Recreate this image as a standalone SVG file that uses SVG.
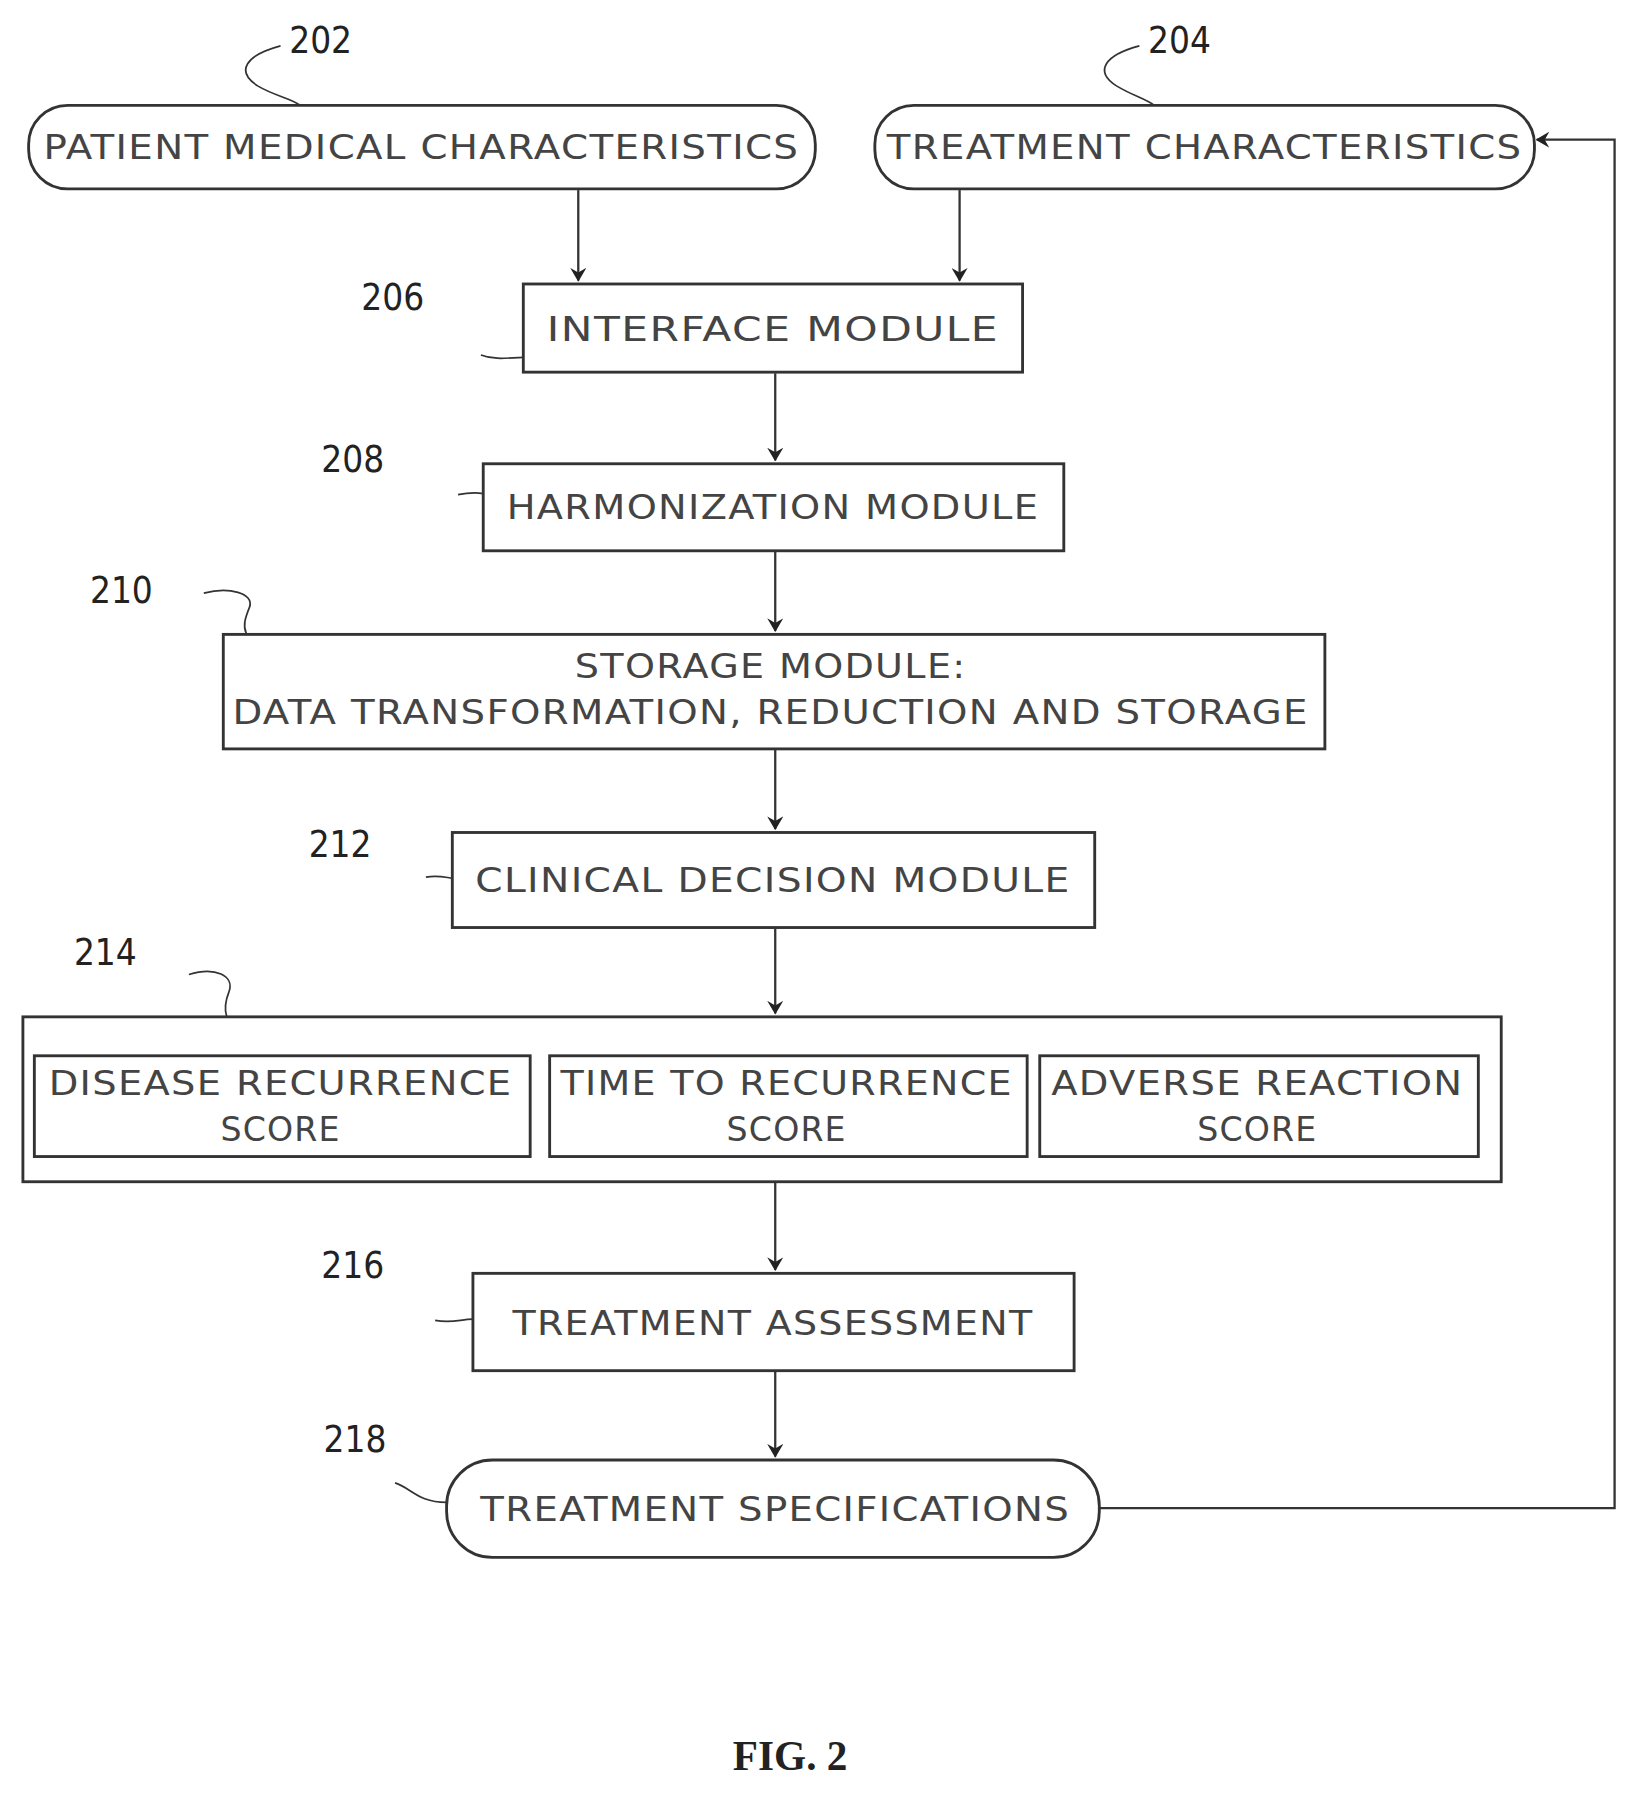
<svg xmlns="http://www.w3.org/2000/svg" width="1649" height="1810" viewBox="0 0 1649 1810">
<style>
.b{fill:#fff;stroke:#333;stroke-width:2.5}
.t{font-family:"DejaVu Sans",sans-serif;font-size:29px;fill:#444;text-anchor:middle;letter-spacing:1px}
.n{font-family:"DejaVu Sans Condensed","DejaVu Sans",sans-serif;font-size:32px;fill:#222;text-anchor:middle}
.c{fill:none;stroke:#333;stroke-width:1.5}
.l{fill:none;stroke:#333;stroke-width:2}
</style>
<defs><marker id="a" markerWidth="12" markerHeight="14" refX="11" refY="7" orient="auto" markerUnits="userSpaceOnUse"><path d="M0,0 L12,7 L0,14 L4,7 Z" fill="#222"/></marker></defs>
<rect width="1649" height="1810" fill="#fff"/>
<g transform="scale(1.1451)">
<g id="connectors">
<line class="l" x1="505" y1="166" x2="505" y2="245" marker-end="url(#a)"/>
<line class="l" x1="838" y1="166" x2="838" y2="245" marker-end="url(#a)"/>
<line class="l" x1="677" y1="326" x2="677" y2="402" marker-end="url(#a)"/>
<line class="l" x1="677" y1="482" x2="677" y2="551" marker-end="url(#a)"/>
<line class="l" x1="677" y1="655" x2="677" y2="724" marker-end="url(#a)"/>
<line class="l" x1="677" y1="811" x2="677" y2="885" marker-end="url(#a)"/>
<line class="l" x1="677" y1="1033" x2="677" y2="1109" marker-end="url(#a)"/>
<line class="l" x1="677" y1="1198" x2="677" y2="1272" marker-end="url(#a)"/>
<polyline class="l" points="960,1317 1410,1317 1410,122 1342,122" marker-end="url(#a)"/>
</g>
<g id="n202">
<rect class="b" x="25" y="92" width="687" height="73" rx="34"/>
<text class="t" x="368" y="139" textLength="660" lengthAdjust="spacingAndGlyphs">PATIENT MEDICAL CHARACTERISTICS</text>
<text class="n" x="280" y="46">202</text>
<path class="c" d="M245,40 C215,48 205,62 225,75 C240,84 255,86 262,92"/>
</g>
<g id="n204">
<rect class="b" x="764" y="92" width="576" height="73" rx="34"/>
<text class="t" x="1052" y="139" textLength="555" lengthAdjust="spacingAndGlyphs">TREATMENT CHARACTERISTICS</text>
<text class="n" x="1030" y="46">204</text>
<path class="c" d="M995,40 C965,48 955,62 975,75 C990,84 1000,86 1008,92"/>
</g>
<g id="n206">
<rect class="b" x="457" y="248" width="436" height="77"/>
<text class="t" x="675" y="298" textLength="395" lengthAdjust="spacingAndGlyphs">INTERFACE MODULE</text>
<text class="n" x="343" y="271">206</text>
<path class="c" d="M420,310 C430,314 440,313 457,312"/>
</g>
<g id="n208">
<rect class="b" x="422" y="405" width="507" height="76"/>
<text class="t" x="675" y="453" textLength="465" lengthAdjust="spacingAndGlyphs">HARMONIZATION MODULE</text>
<text class="n" x="308" y="412">208</text>
<path class="c" d="M400,432 C410,430 415,430 422,431"/>
</g>
<g id="n210">
<rect class="b" x="195" y="554" width="962" height="100"/>
<text class="t" x="673" y="592" textLength="342" lengthAdjust="spacingAndGlyphs">STORAGE MODULE:</text>
<text class="t" x="673" y="632" textLength="940" lengthAdjust="spacingAndGlyphs">DATA TRANSFORMATION, REDUCTION AND STORAGE</text>
<text class="n" x="106" y="527">210</text>
<path class="c" d="M178,518 C200,512 222,518 218,530 C214,540 212,546 215,553"/>
</g>
<g id="n212">
<rect class="b" x="395" y="727" width="561" height="83"/>
<text class="t" x="675" y="779" textLength="520" lengthAdjust="spacingAndGlyphs">CLINICAL DECISION MODULE</text>
<text class="n" x="297" y="748">212</text>
<path class="c" d="M372,766 C382,764 388,766 395,767"/>
</g>
<g id="n214">
<rect class="b" x="20" y="888" width="1291" height="144"/>
<rect class="b" x="30" y="922" width="433" height="88"/>
<rect class="b" x="480" y="922" width="417" height="88"/>
<rect class="b" x="908" y="922" width="383" height="88"/>
<text class="t" x="245" y="956" textLength="405" lengthAdjust="spacingAndGlyphs">DISEASE RECURRENCE</text>
<text class="t" x="245" y="996">SCORE</text>
<text class="t" x="687" y="956" textLength="395" lengthAdjust="spacingAndGlyphs">TIME TO RECURRENCE</text>
<text class="t" x="687" y="996">SCORE</text>
<text class="t" x="1098" y="956" textLength="360" lengthAdjust="spacingAndGlyphs">ADVERSE REACTION</text>
<text class="t" x="1098" y="996">SCORE</text>
<text class="n" x="92" y="843">214</text>
<path class="c" d="M165,851 C188,844 205,852 200,866 C196,876 196,882 198,888"/>
</g>
<g id="n216">
<rect class="b" x="413" y="1112" width="525" height="85"/>
<text class="t" x="675" y="1166" textLength="455" lengthAdjust="spacingAndGlyphs">TREATMENT ASSESSMENT</text>
<text class="n" x="308" y="1116">216</text>
<path class="c" d="M380,1153 C395,1156 402,1152 413,1152"/>
</g>
<g id="n218">
<rect class="b" x="390" y="1275" width="570" height="85" rx="40"/>
<text class="t" x="677" y="1328" textLength="515" lengthAdjust="spacingAndGlyphs">TREATMENT SPECIFICATIONS</text>
<text class="n" x="310" y="1268">218</text>
<path class="c" d="M345,1295 C360,1300 365,1312 390,1312"/>
</g>
<text x="690" y="1546" style="font-family:'Liberation Serif',serif;font-size:36px;font-weight:bold;fill:#222;text-anchor:middle">FIG. 2</text>
</g>
</svg>
